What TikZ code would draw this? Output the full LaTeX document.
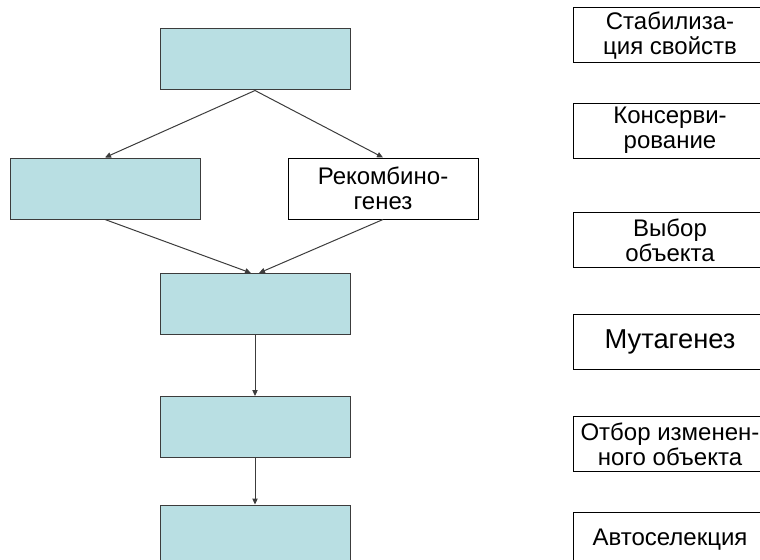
\documentclass[tikz,border=0pt]{standalone}
\usepackage{fontspec}
\setmainfont{Liberation Sans}
\usetikzlibrary{arrows.meta}
\definecolor{boxblue}{RGB}{185,223,227}
\definecolor{edgegray}{RGB}{60,60,60}
\tikzset{every picture/.style={line width=0.75pt}}

\begin{document}
\begin{tikzpicture}[x=0.75pt, y=-0.75pt,
    bluebox/.style={draw=edgegray, fill=boxblue, minimum width=142.5pt, minimum height=45.75pt, inner sep=0pt},
    textbox/.style={draw=black, fill=white, minimum width=142.5pt, minimum height=45.75pt, inner sep=0pt, align=center, font=\fontsize{18}{19}\selectfont},
    stagebox/.style={draw=black, fill=white, minimum width=145.5pt, minimum height=41.25pt, inner sep=0pt, align=center, font=\fontsize{18}{19}\selectfont},
    link/.style={draw=edgegray, -{Triangle[length=4.5pt,width=4pt]}}]
    \useasboundingbox (0,0) rectangle (760,560);
    \clip (0,0) rectangle (760,560);

    % левая схема
    \node[bluebox] (top) at (255,59.5) {};
    \node[bluebox] (left) at (105,188.5) {};
    \node[textbox] (recomb) at (383,188.5) {Рекомбино-\\генез};
    \node[bluebox] (mid) at (255,304) {};
    \node[bluebox] (lower) at (255,427) {};
    \node[bluebox] (bottom) at (255,535.5) {};

    % стрелки
    \draw[link] (top.south) -- (left.north);
    \draw[link] (top.south) -- (recomb.north);
    \draw[link] (left.south) -- ([xshift=-3pt]mid.north);
    \draw[link] (recomb.south) -- ([xshift=3pt]mid.north);
    \draw[link] (mid.south) -- (lower.north);
    \draw[link] (lower.south) -- (bottom.north);

    % этапы справа
    \node[stagebox] (stab) at (670,35.5) {Стабилиза-\\ция свойств};
    \node[stagebox] (kons) at (670,130.5) {Консерви-\\рование};
    \node[stagebox] (vybor) at (670,240) {Выбор\\объекта};
    \node[stagebox, font=\fontsize{20.5}{22}\selectfont] (mut) at (670,341.5) {Мутагенез};
    \node[stagebox] (otbor) at (670,444) {Отбор изменен-\\ного объекта};
    \node[stagebox] (autosel) at (670,539.5) {Автоселекция};
\end{tikzpicture}
\end{document}
